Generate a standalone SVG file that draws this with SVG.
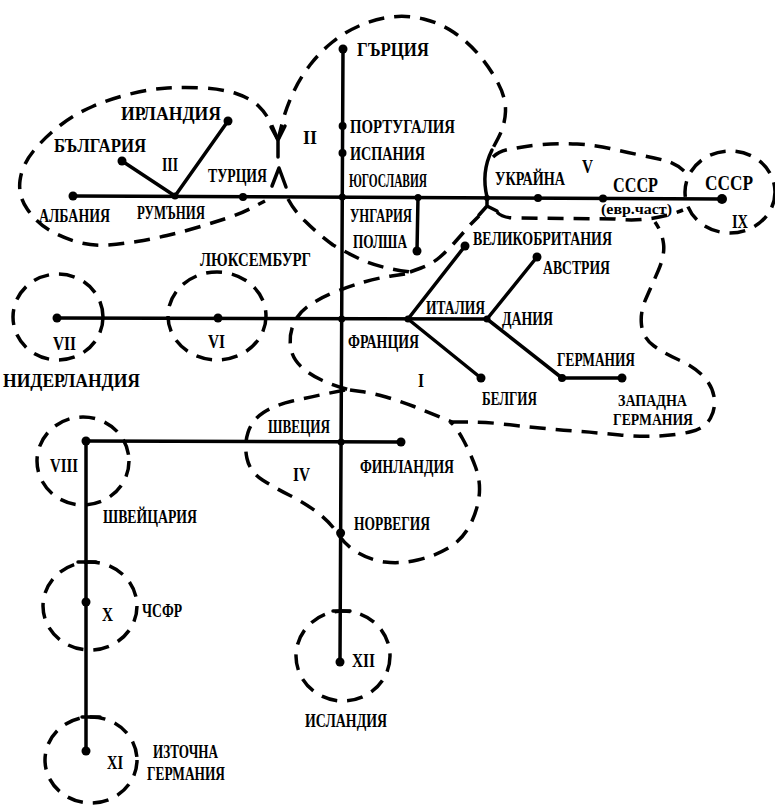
<svg xmlns="http://www.w3.org/2000/svg" width="775" height="807" viewBox="0 0 775 807">
<style>
.ln{stroke:#000;stroke-width:3.5;fill:none;stroke-linecap:round;stroke-linejoin:round}
.dsh{stroke:#000;stroke-width:3.5;fill:none;stroke-dasharray:16 10}
.mk{stroke:#000;stroke-width:3.5;fill:none;stroke-linecap:round;stroke-linejoin:round}
circle{fill:#000}
text{font-family:"Liberation Serif","DejaVu Serif",serif;font-size:18px;font-weight:bold;fill:#000}
.big{font-size:21px}
.sm{font-size:15px}
.tw{font-size:16px}
</style>
<rect width="775" height="807" fill="#fff"/>

<g id="regions">
  <g id="region-III">
    <path class="dsh" d="M278,140 L272.5,127 Q267,114 258.5,106 Q250,98 236,93.5 Q222,89 203.5,88 Q185,87 167.5,88 Q150,89 130,94 Q110,99 92.5,106.5 Q75,114 60,125.5 Q45,137 33.5,151 Q22,165 20,180.5 Q18,196 27.5,209.5 Q37,223 50,230.5 Q63,238 77.5,242 Q92,246 107,245 Q122,244 137,241.5 Q152,239 167,235.5 Q182,232 197,227.5 Q212,223 226,218.5 Q240,214 251.5,208 L265,201"/>
    <text x="162" y="171" textLength="16" lengthAdjust="spacingAndGlyphs">III</text>
  </g>
  <g id="region-II">
    <path class="dsh" d="M278,140 L282,124 Q286,108 293,93 Q300,78 310,65 Q320,52 332.5,42 Q345,32 360,25.5 Q375,19 391,17 Q407,15 423.5,19 Q440,23 454,32.5 Q468,42 479,55 Q490,68 498,83 Q506,98 505.5,111.5 Q505,125 498.5,137.5 L493,148"/>
    <path class="dsh" d="M288,199 Q295,212 305,221 Q318,234 333,245 Q347,253 362,260 Q380,268 410,272"/>
    <path class="mk" d="M278,140 L278,157 M271,127 L278,140 L285,126 M272,186 L279,168 L286,187 M492,150 Q481,172 487,197 L487,206 M479,215 L487,206 L497,211"/>
    <text x="303" y="144" textLength="14" lengthAdjust="spacingAndGlyphs">II</text>
  </g>
  <g id="region-I">
    <path class="dsh" d="M410,272 L421,268 Q432,264 440,257 Q448,250 455.5,241.5 Q463,233 470.5,224.5 L479,216"/>
    <path class="dsh" d="M405,274 L391.5,276 Q378,278 364,282 Q350,286 335,292 Q320,298 309,305.5 Q298,313 293.5,324 Q289,335 290.5,346.5 Q292,358 301,366.5 Q310,375 322.5,380.5 Q335,386 350,390"/>
    <path class="dsh" d="M350,390 L361,391.5 Q372,393 386,397 Q400,401 414,406.5 Q428,412 452,422"/>
    <path class="dsh" d="M452,422 L468.5,422 Q485,422 502.5,424 Q520,426 540,428 Q560,430 580,431.5 Q600,433 620,435 Q640,437 659,436 Q678,435 691.5,431.5 Q705,428 710.5,418 Q716,408 714,396.5 Q712,385 702.5,375.5 Q693,366 679,360 Q665,354 654,346 Q643,338 641.5,325 Q640,312 646,298.5 Q652,285 658.5,270 Q665,255 663.5,243.5 Q662,232 655,222"/>
    <text x="418" y="387" textLength="6" lengthAdjust="spacingAndGlyphs">I</text>
  </g>
  <g id="region-IV">
    <path class="dsh" d="M345,390 L327.5,393.5 Q310,397 292.5,401 Q275,405 263.5,412.5 Q252,420 248,432.5 Q244,445 247,458.5 Q250,472 262.5,480 Q275,488 290,495.5 Q305,503 317.5,512.5 Q330,522 337.5,533.5 Q345,545 357.5,552.5 Q370,560 385,562 Q400,564 417.5,560 Q435,556 448.5,548 Q462,540 469.5,526 Q477,512 479,497 Q481,482 475.5,467 Q470,452 462.5,438.5 Q455,425 450,422"/>
    <text x="293" y="481" textLength="17" lengthAdjust="spacingAndGlyphs">IV</text>
  </g>
  <g id="region-V">
    <path class="dsh" d="M493,157 Q500,150 512,149 Q525,146 542,144.5 Q560,143 577,144 Q595,145 610,148.5 Q625,152 640,155 Q655,158 665,160.5 Q678,164 688,175"/>
    <path class="dsh" d="M497,212 Q502,218 515,218 L615,219 Q650,223 683,210"/>
    <text x="582" y="173" textLength="11" lengthAdjust="spacingAndGlyphs">V</text>
  </g>
  <g id="region-VI">
    <ellipse class="dsh" cx="217" cy="316" rx="49" ry="44"/>
    <text x="208" y="348" textLength="17" lengthAdjust="spacingAndGlyphs">VI</text>
  </g>
  <g id="region-VII">
    <ellipse class="dsh" cx="58" cy="317" rx="45" ry="43"/>
    <text x="53" y="350" textLength="23" lengthAdjust="spacingAndGlyphs">VII</text>
  </g>
  <g id="region-VIII">
    <ellipse class="dsh" cx="83" cy="461" rx="46" ry="44"/>
    <text x="50" y="472" textLength="28" lengthAdjust="spacingAndGlyphs">VIII</text>
  </g>
  <g id="region-IX">
    <ellipse class="dsh" cx="730" cy="192" rx="45" ry="41"/>
    <text x="732" y="228" textLength="16" lengthAdjust="spacingAndGlyphs">IX</text>
  </g>
  <g id="region-X">
    <ellipse class="dsh" cx="90" cy="606" rx="47" ry="44"/>
    <text x="102" y="621" textLength="11" lengthAdjust="spacingAndGlyphs">X</text>
  </g>
  <g id="region-XI">
    <ellipse class="dsh" cx="91" cy="760" rx="46" ry="43"/>
    <text x="107" y="769" textLength="16" lengthAdjust="spacingAndGlyphs">XI</text>
  </g>
  <g id="region-XII">
    <ellipse class="dsh" cx="343" cy="656" rx="47" ry="45"/>
    <text x="352" y="667" textLength="23" lengthAdjust="spacingAndGlyphs">XII</text>
  </g>
</g>

<g id="connectors">
  <line class="ln" x1="343" y1="49" x2="340" y2="662"/>
  <line class="ln" x1="73" y1="196" x2="722" y2="199"/>
  <line class="ln" x1="175" y1="196" x2="228" y2="121"/>
  <line class="ln" x1="175" y1="196" x2="122" y2="161"/>
  <line class="ln" x1="418" y1="197" x2="417" y2="251"/>
  <line class="ln" x1="57" y1="318" x2="487" y2="319"/>
  <line class="ln" x1="408" y1="319" x2="465" y2="246"/>
  <line class="ln" x1="408" y1="319" x2="481" y2="378"/>
  <line class="ln" x1="487" y1="319" x2="537" y2="257"/>
  <polyline class="ln" points="487,319 562,378 622,378"/>
  <line class="ln" x1="86" y1="441" x2="401" y2="442"/>
  <line class="ln" x1="86" y1="441" x2="86" y2="751"/>
  <line class="ln" x1="78" y1="562" x2="96" y2="562"/>
  <line class="ln" x1="82" y1="717" x2="100" y2="717"/>
  <line class="ln" x1="333" y1="611" x2="350" y2="611"/>
</g>

<g id="nodes">
  <g id="n-gartsiya"><circle cx="343" cy="49" r="4.5"/><text x="357" y="56" textLength="72" lengthAdjust="spacingAndGlyphs">ГЪРЦИЯ</text></g>
  <g id="n-portugaliya"><circle cx="342.6" cy="126" r="4"/><text x="350" y="133" textLength="105" lengthAdjust="spacingAndGlyphs">ПОРТУГАЛИЯ</text></g>
  <g id="n-ispaniya"><circle cx="342.5" cy="153" r="4"/><text x="350" y="160" textLength="75" lengthAdjust="spacingAndGlyphs">ИСПАНИЯ</text></g>
  <g id="n-yugoslaviya"><circle cx="342.3" cy="197" r="3.5"/><text x="349" y="187" textLength="78" lengthAdjust="spacingAndGlyphs">ЮГОСЛАВИЯ</text></g>
  <g id="n-ungariya"><circle cx="418" cy="197.5" r="3.5"/><text x="350" y="222" textLength="62" lengthAdjust="spacingAndGlyphs">УНГАРИЯ</text></g>
  <g id="n-polsha"><circle cx="417" cy="251" r="4.5"/><text x="353" y="248" textLength="54" lengthAdjust="spacingAndGlyphs">ПОЛША</text></g>
  <g id="n-irlandiya"><circle cx="228" cy="121" r="4.5"/><text x="121" y="120" textLength="100" lengthAdjust="spacingAndGlyphs">ИРЛАНДИЯ</text></g>
  <g id="n-balgariya"><circle cx="122" cy="161" r="4.5"/><text x="54" y="152" textLength="92" lengthAdjust="spacingAndGlyphs">БЪЛГАРИЯ</text></g>
  <g id="n-rumaniya"><circle cx="175" cy="196" r="3.5"/><text x="137" y="219" textLength="68" lengthAdjust="spacingAndGlyphs">РУМЪНИЯ</text></g>
  <g id="n-albaniya"><circle cx="73" cy="196" r="4.5"/><text x="39" y="222" textLength="71" lengthAdjust="spacingAndGlyphs">АЛБАНИЯ</text></g>
  <g id="n-turciya"><circle cx="243" cy="197" r="4"/><text x="208" y="182" textLength="59" lengthAdjust="spacingAndGlyphs">ТУРЦИЯ</text></g>
  <g id="n-ukrayna"><circle cx="487" cy="198" r="3"/><circle cx="538" cy="198" r="4"/><text x="495" y="185" textLength="70" lengthAdjust="spacingAndGlyphs">УКРАЙНА</text></g>
  <g id="n-sssr-evr"><circle cx="603" cy="198.5" r="4"/><text class="big" x="613" y="192" textLength="45" lengthAdjust="spacingAndGlyphs">СССР</text><text class="sm" x="601" y="214" textLength="71" lengthAdjust="spacingAndGlyphs">(евр.част)</text></g>
  <g id="n-sssr-ix"><circle cx="722" cy="199" r="5"/><text class="big" x="705" y="190" textLength="48" lengthAdjust="spacingAndGlyphs">СССР</text></g>
  <g id="n-lyuksemburg"><circle cx="218" cy="318" r="4.5"/><text x="200" y="266" textLength="111" lengthAdjust="spacingAndGlyphs">ЛЮКСЕМБУРГ</text></g>
  <g id="n-niderlandiya"><circle cx="57" cy="318" r="4.5"/><text x="3" y="387" textLength="137" lengthAdjust="spacingAndGlyphs">НИДЕРЛАНДИЯ</text></g>
  <g id="n-franciya"><circle cx="341.7" cy="319" r="3.5"/><text x="348" y="348" textLength="71" lengthAdjust="spacingAndGlyphs">ФРАНЦИЯ</text></g>
  <g id="n-italiya"><circle cx="408" cy="319" r="3.5"/><text x="426" y="314" textLength="59" lengthAdjust="spacingAndGlyphs">ИТАЛИЯ</text></g>
  <g id="n-daniya"><circle cx="487" cy="319" r="3.5"/><text x="502" y="325" textLength="51" lengthAdjust="spacingAndGlyphs">ДАНИЯ</text></g>
  <g id="n-velikobritaniya"><circle cx="465" cy="246" r="4.5"/><text x="473" y="245" textLength="139" lengthAdjust="spacingAndGlyphs">ВЕЛИКОБРИТАНИЯ</text></g>
  <g id="n-avstriya"><circle cx="537" cy="257" r="4.5"/><text x="543" y="274" textLength="67" lengthAdjust="spacingAndGlyphs">АВСТРИЯ</text></g>
  <g id="n-belgiya"><circle cx="481" cy="378" r="4.5"/><text x="482" y="405" textLength="55" lengthAdjust="spacingAndGlyphs">БЕЛГИЯ</text></g>
  <g id="n-germaniya"><circle cx="562" cy="378" r="4"/><text x="557" y="366" textLength="78" lengthAdjust="spacingAndGlyphs">ГЕРМАНИЯ</text></g>
  <g id="n-zapadna-germaniya"><circle cx="622" cy="378" r="4.5"/><text class="tw" x="618" y="406" textLength="69" lengthAdjust="spacingAndGlyphs">ЗАПАДНА</text><text class="tw" x="613" y="425" textLength="80" lengthAdjust="spacingAndGlyphs">ГЕРМАНИЯ</text></g>
  <g id="n-shveycariya"><circle cx="86" cy="441" r="4.5"/><text x="103" y="523" textLength="94" lengthAdjust="spacingAndGlyphs">ШВЕЙЦАРИЯ</text></g>
  <g id="n-shveciya"><circle cx="341.1" cy="442" r="3.5"/><text x="268" y="433" textLength="62" lengthAdjust="spacingAndGlyphs">ШВЕЦИЯ</text></g>
  <g id="n-finlandiya"><circle cx="401" cy="442" r="4.5"/><text x="360" y="473" textLength="94" lengthAdjust="spacingAndGlyphs">ФИНЛАНДИЯ</text></g>
  <g id="n-norvegiya"><circle cx="340.6" cy="533" r="4.5"/><text x="354" y="530" textLength="76" lengthAdjust="spacingAndGlyphs">НОРВЕГИЯ</text></g>
  <g id="n-chsfr"><circle cx="86" cy="602" r="4.5"/><text x="142" y="617" textLength="40" lengthAdjust="spacingAndGlyphs">ЧСФР</text></g>
  <g id="n-iztochna-germaniya"><circle cx="86" cy="751" r="4.5"/><text x="153" y="758" textLength="65" lengthAdjust="spacingAndGlyphs">ИЗТОЧНА</text><text x="147" y="780" textLength="78" lengthAdjust="spacingAndGlyphs">ГЕРМАНИЯ</text></g>
  <g id="n-islandiya"><circle cx="340" cy="662" r="4.5"/><text x="305" y="727" textLength="82" lengthAdjust="spacingAndGlyphs">ИСЛАНДИЯ</text></g>
</g>
</svg>
